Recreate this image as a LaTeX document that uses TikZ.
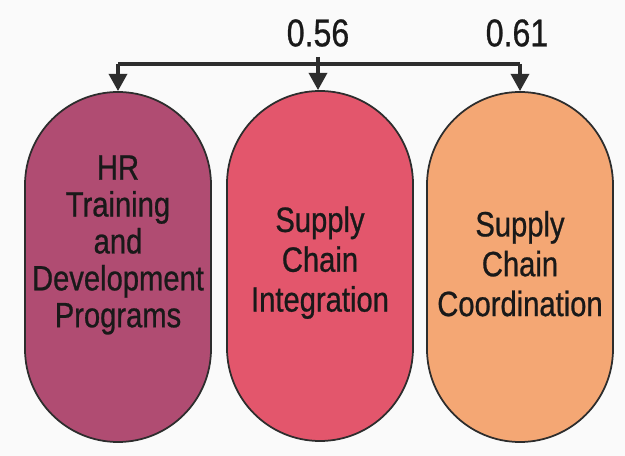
\documentclass[tikz,border=0pt]{standalone}
\usepackage{fontspec}
\setmainfont{Liberation Sans}[FakeStretch=0.83,FakeBold=0.7]
\usepackage{tikz}
\usetikzlibrary{positioning,arrows.meta}
\definecolor{hrmauve}{RGB}{176,76,114}
\definecolor{scrose}{RGB}{227,86,108}
\definecolor{scpeach}{RGB}{244,167,116}
\definecolor{linkgray}{RGB}{45,45,45}

\begin{document}
\begin{tikzpicture}[-{Triangle[length=0.52cm,width=0.54cm]},line width=3.2pt,linkgray]
  \tikzstyle{pill}=[rectangle, rounded corners=2.79cm, draw=linkgray, line width=1.5pt, minimum width=5.58cm, minimum height=10.5cm]
  \tikzstyle{pilltext}=[text=black!90, align=center, font=\fontsize{30}{34}\selectfont]
  \tikzstyle{weight}=[text=black!90, font=\fontsize{33}{36}\selectfont]
  \fill[white!98!black] (0,0) rectangle (18.75,13.68);
  \useasboundingbox (0,0) rectangle (18.75,13.68);

  \node[pill, fill=hrmauve] (hr) at (3.54,5.67) {};
  \node[pill, fill=scrose] (sci) at (9.6,5.7) {};
  \node[pill, fill=scpeach] (scc) at (15.6,5.67) {};

  \node[pilltext, font=\fontsize{30}{31.5}\selectfont] (hr_text) at ([yshift=0.66cm]hr.center) {HR\\Training\\and\\Development\\Programs};
  \node[pilltext] (sci_text) at ([yshift=0.1cm]sci.center) {Supply\\Chain\\Integration};
  \node[pilltext] (scc_text) at ([yshift=0.1cm]scc.center) {Supply\\Chain\\Coordination};

  \coordinate (j_1) at (3.54,11.76);
  \coordinate (j_2) at (9.54,11.76);
  \coordinate (j_3) at (15.6,11.76);
  \coordinate (top) at (9.54,11.97);

  \node[weight] (w_1) at (9.54,12.69) {0.56};
  \node[weight] (w_2) at (15.51,12.69) {0.61};

  \draw[-] (j_1) -- (j_3);
  \draw (j_1) -- (hr);
  \draw (top) -- (j_2 |- sci.north);
  \draw (j_3) -- (scc);
\end{tikzpicture}
\end{document}
